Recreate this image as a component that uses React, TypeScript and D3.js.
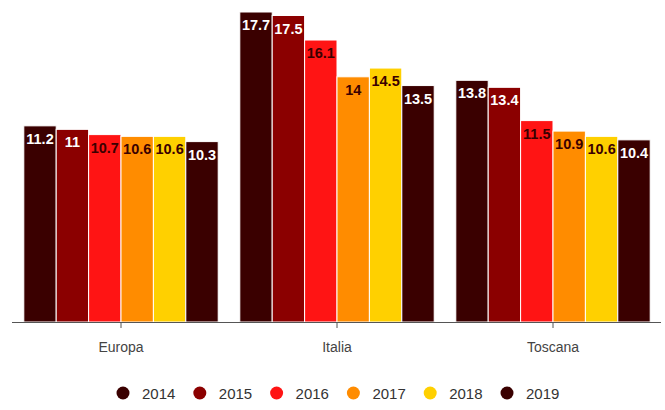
import React from "react";
import * as d3 from "d3";

const categories = ["Europa", "Italia", "Toscana"];
const years = ["2014", "2015", "2016", "2017", "2018", "2019"];
const colors = ["#3a0000", "#8b0000", "#ff1414", "#ff8c00", "#ffd000", "#3a0000"];
const labelColors = ["#ffffff", "#ffffff", "#3a0000", "#3a0000", "#3a0000", "#ffffff"];
const values2014 = [11.2, 17.7, 13.8];
const values2015 = [11, 17.5, 13.4];
const values2016 = [10.7, 16.1, 11.5];
const values2017 = [10.6, 14, 10.9];
const values2018 = [10.6, 14.5, 10.6];
const values2019 = [10.3, 13.5, 10.4];
const series = [values2014, values2015, values2016, values2017, values2018, values2019];

const W = 665;
const H = 410;
const FONT = "'Liberation Sans', Arial, Helvetica, sans-serif";

export default function App() {
  const x0 = d3.scaleBand().domain(categories).range([13, 661]).paddingInner(0.1).paddingOuter(0.05);
  const x1 = d3.scaleBand().domain(years).range([0, x0.bandwidth()]).padding(0);
  const y = d3.scaleLinear().domain([0, 17.7]).range([322, 12]);
  const legendX = d3.scalePoint().domain(years).range([123, 507]);

  return (
    <svg width={W} height={H} style={{ position: "absolute", left: 0, top: 0, fontFamily: FONT }}>
      <rect width={W} height={H} fill="#fff" />
      {categories.map((c, ci) => (
        <g key={c} transform={`translate(${x0(c)},0)`}>
          {years.map((yr, si) => {
            const v = series[si][ci];
            const bx = x1(yr)!;
            const bw = x1.bandwidth();
            return (
              <g key={yr}>
                <rect x={bx} y={y(v)} width={bw} height={y(0) - y(v)} fill={colors[si]} stroke="#fff" strokeWidth={1} />
                <text
                  x={bx + bw / 2}
                  y={y(v) + 18}
                  textAnchor="middle"
                  fontSize={14.5}
                  fontWeight="bold"
                  fill={labelColors[si]}
                >
                  {String(v)}
                </text>
              </g>
            );
          })}
        </g>
      ))}
      <line x1={12} x2={661} y1={322.5} y2={322.5} stroke="#555" strokeWidth={1} />
      {categories.map((c) => {
        const cx = x0(c)! + x0.bandwidth() / 2;
        return (
          <g key={c}>
            <line x1={cx} x2={cx} y1={322} y2={328} stroke="#555" strokeWidth={1} />
            <text x={cx} y={352} textAnchor="middle" fontSize={14} fill="#444">
              {c}
            </text>
          </g>
        );
      })}
      {years.map((yr, i) => {
        const lx = legendX(yr)!;
        return (
          <g key={yr}>
            <circle cx={lx} cy={393} r={6.5} fill={colors[i]} />
            <text x={lx + 19} y={398.5} fontSize={15} fill="#333">
              {yr}
            </text>
          </g>
        );
      })}
    </svg>
  );
}
